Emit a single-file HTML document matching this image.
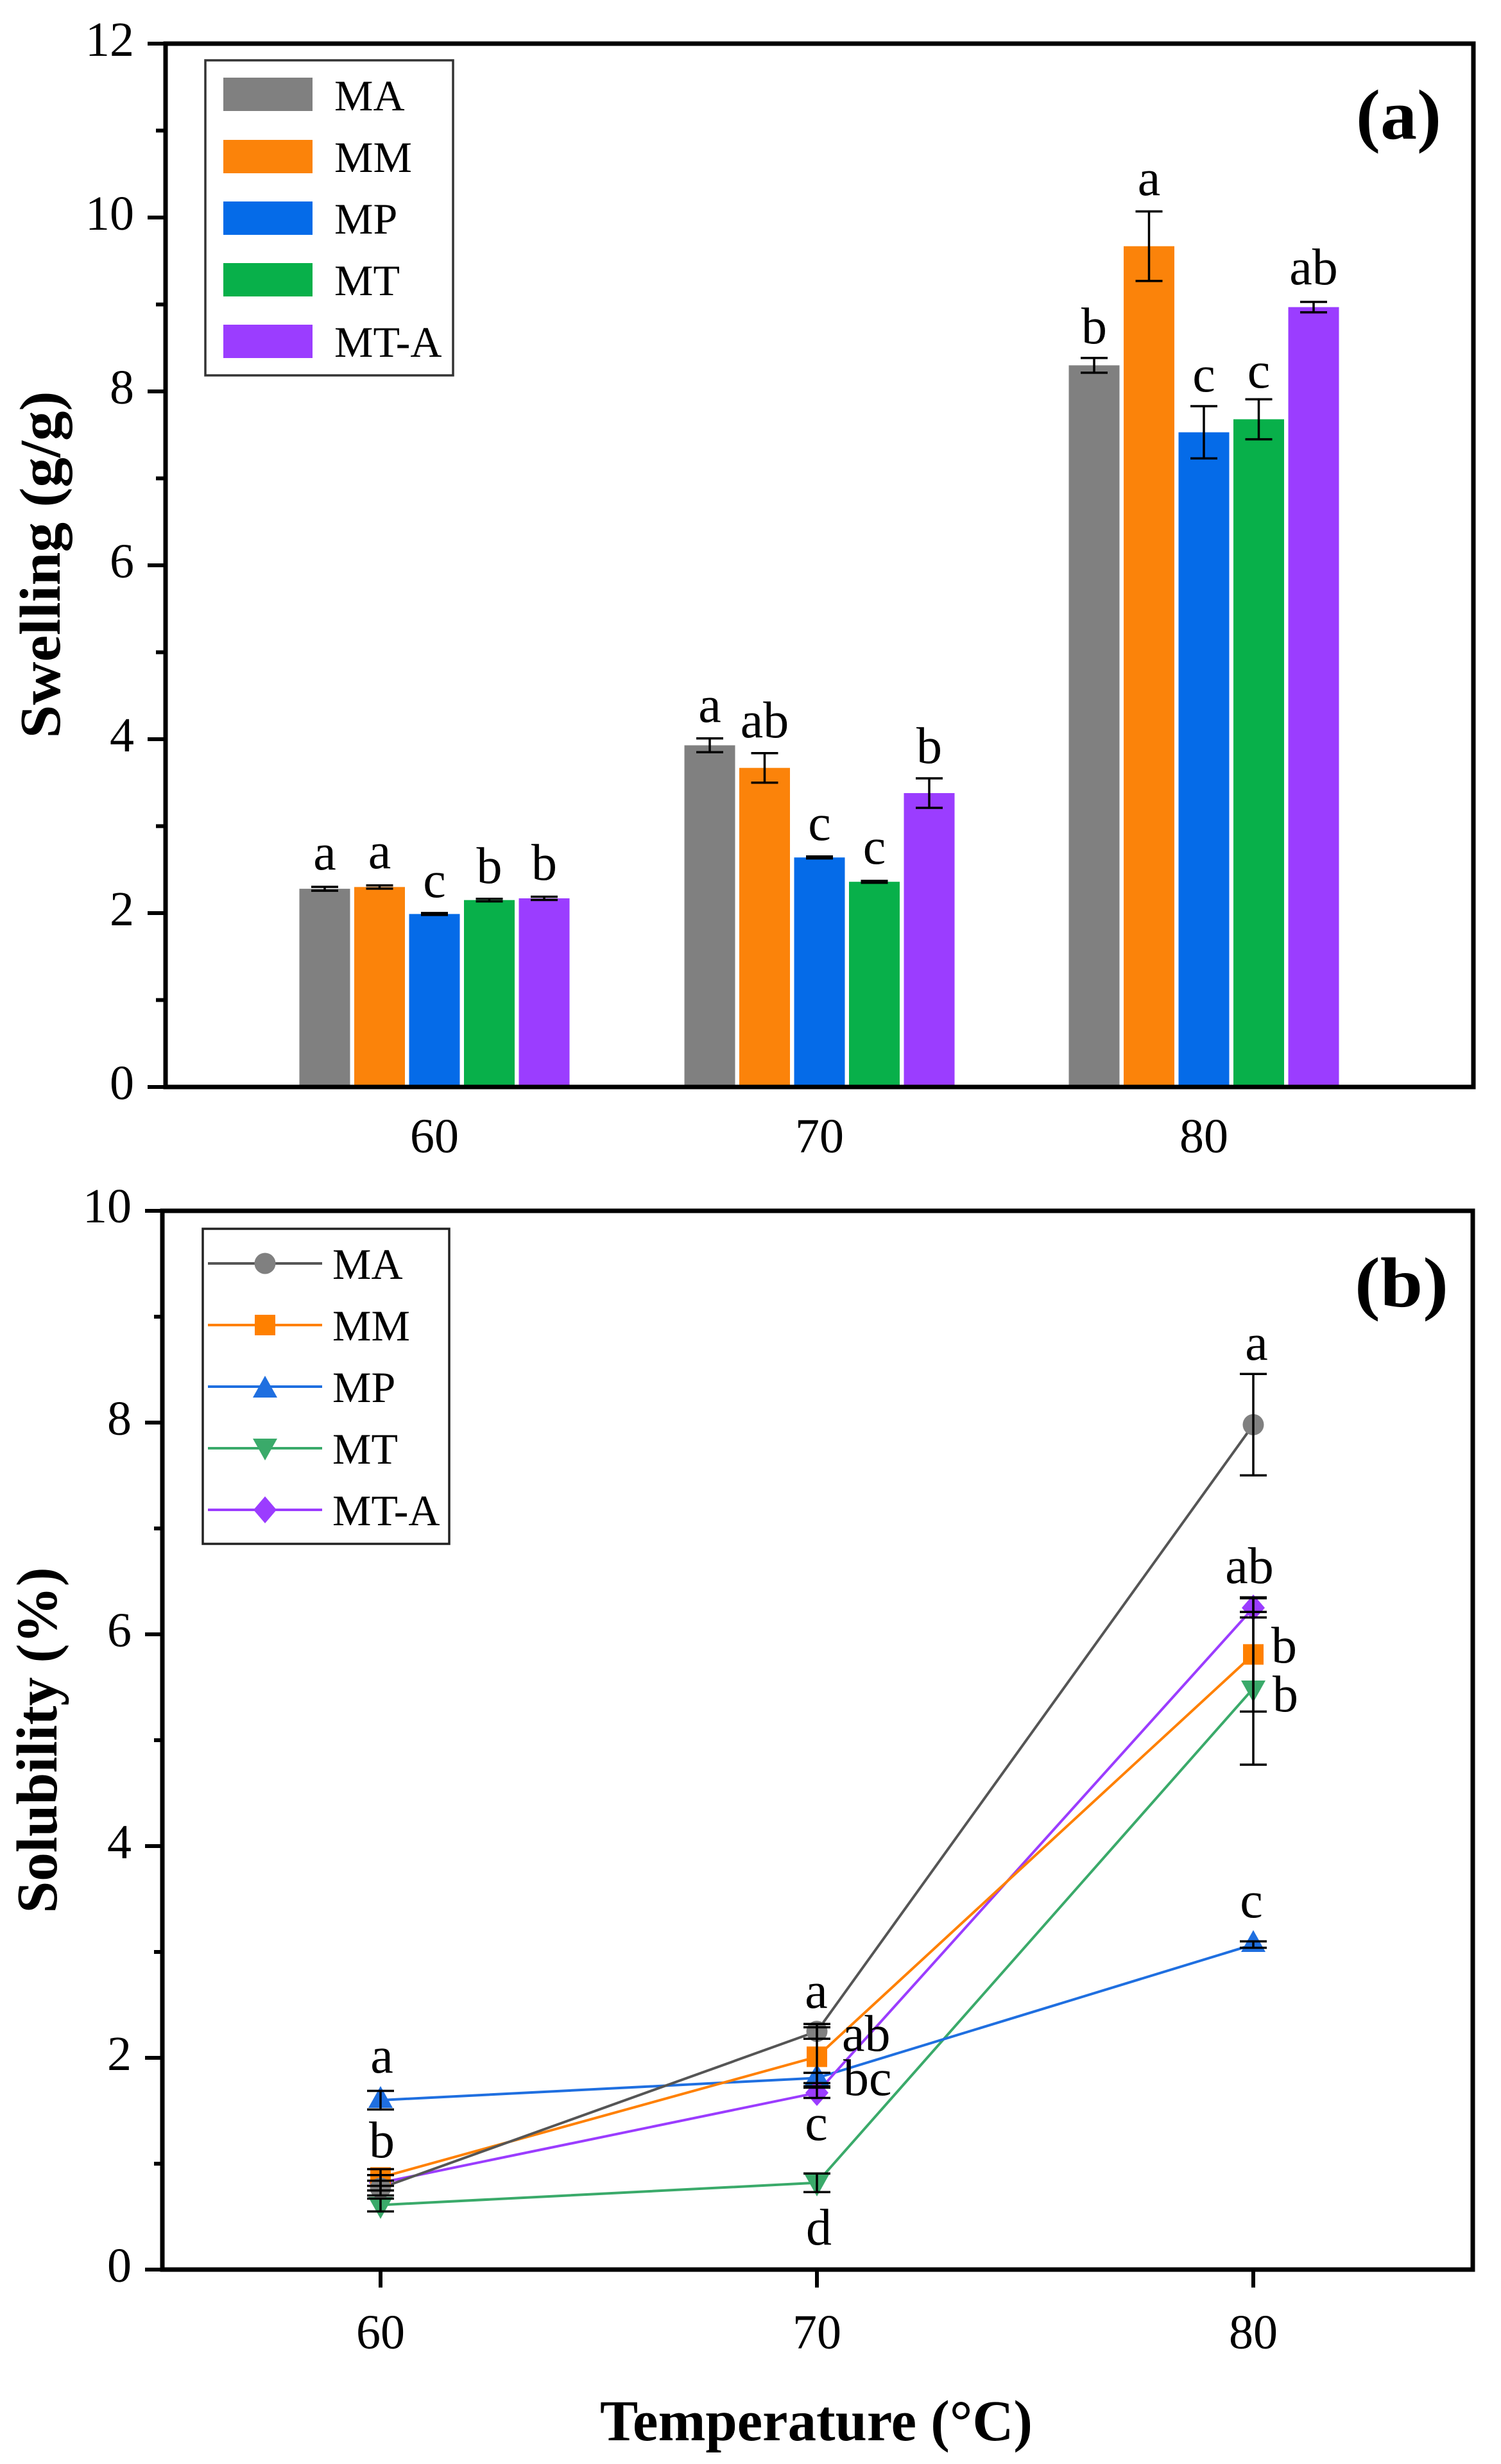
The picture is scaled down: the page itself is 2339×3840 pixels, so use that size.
<!DOCTYPE html>
<html>
<head>
<meta charset="utf-8">
<style>
html,body{margin:0;padding:0;background:#fff;}
svg{display:block;}
text{font-family:"Liberation Serif","DejaVu Serif",serif;fill:#000;}
</style>
</head>
<body>
<svg xmlns="http://www.w3.org/2000/svg" width="2339" height="3840" viewBox="0 0 2339 3840">
<rect x="0" y="0" width="2339" height="3840" fill="#fff"/>

<!-- ================= PANEL A ================= -->
<!-- bars 60 -->
<g>
<rect x="466.5" y="1385.1" width="79" height="308.9" fill="#808080"/>
<rect x="552" y="1382.35" width="79" height="311.65" fill="#FB830A"/>
<rect x="637.5" y="1424.4" width="79" height="269.6" fill="#056BE8"/>
<rect x="723" y="1402.7" width="79" height="291.3" fill="#08B04A"/>
<rect x="808.5" y="1400" width="79" height="294" fill="#9B3DFF"/>
<!-- bars 70 -->
<rect x="1066.5" y="1161.5" width="79" height="532.5" fill="#808080"/>
<rect x="1152" y="1196.7" width="79" height="497.3" fill="#FB830A"/>
<rect x="1237.5" y="1336.3" width="79" height="357.7" fill="#056BE8"/>
<rect x="1323" y="1374.2" width="79" height="319.8" fill="#08B04A"/>
<rect x="1408.5" y="1236" width="79" height="458" fill="#9B3DFF"/>
<!-- bars 80 -->
<rect x="1665.5" y="569.35" width="79" height="1124.65" fill="#808080"/>
<rect x="1751" y="383.7" width="79" height="1310.3" fill="#FB830A"/>
<rect x="1836.5" y="673.7" width="79" height="1020.3" fill="#056BE8"/>
<rect x="1922" y="653.4" width="79" height="1040.6" fill="#08B04A"/>
<rect x="2007.5" y="478.6" width="79" height="1215.4" fill="#9B3DFF"/>
</g>

<!-- error bars panel a -->
<g stroke="#000" stroke-width="3.5" fill="none">
<path d="M485 1382.1H527M506 1382.1V1388.1M485 1388.1H527"/>
<path d="M570.5 1379.85H612.5M591.5 1379.85V1384.85M570.5 1384.85H612.5"/>
<path d="M656 1422.9H698M677 1422.9V1425.9M656 1425.9H698"/>
<path d="M741.5 1400.7H783.5M762.5 1400.7V1404.7M741.5 1404.7H783.5"/>
<path d="M827 1397.5H869M848 1397.5V1402.5M827 1402.5H869"/>

<path d="M1085 1150.7H1127M1106 1150.7V1172.3M1085 1172.3H1127"/>
<path d="M1170.5 1173.7H1212.5M1191.5 1173.7V1219.7M1170.5 1219.7H1212.5"/>
<path d="M1256 1334.8H1298M1277 1334.8V1337.8M1256 1337.8H1298"/>
<path d="M1341.5 1372.7H1383.5M1362.5 1372.7V1375.7M1341.5 1375.7H1383.5"/>
<path d="M1427 1213H1469M1448 1213V1259M1427 1259H1469"/>

<path d="M1684 557.85H1726M1705 557.85V580.85M1684 580.85H1726"/>
<path d="M1769.5 329.5H1811.5M1790.5 329.5V437.9M1769.5 437.9H1811.5"/>
<path d="M1855 633.05H1897M1876 633.05V714.35M1855 714.35H1897"/>
<path d="M1940.5 622.2H1982.5M1961.5 622.2V684.6M1940.5 684.6H1982.5"/>
<path d="M2026 470.5H2068M2047 470.5V486.7M2026 486.7H2068"/>
</g>

<!-- letters panel a -->
<g font-size="80" text-anchor="middle">
<text x="506" y="1355">a</text>
<text x="591.5" y="1353">a</text>
<text x="677" y="1398">c</text>
<text x="762.5" y="1376">b</text>
<text x="848" y="1371">b</text>

<text x="1106" y="1125">a</text>
<text x="1191.5" y="1149">ab</text>
<text x="1277" y="1309">c</text>
<text x="1362.5" y="1346">c</text>
<text x="1448" y="1189">b</text>

<text x="1705" y="535">b</text>
<text x="1790.5" y="304">a</text>
<text x="1876" y="610">c</text>
<text x="1961.5" y="604">c</text>
<text x="2047" y="443">ab</text>
</g>

<!-- frame panel a -->
<rect x="258" y="68" width="2038" height="1626" fill="none" stroke="#000" stroke-width="7"/>
<!-- y ticks panel a -->
<g stroke="#000" stroke-width="6">
<path d="M230 1694H258M230 1423H258M230 1152H258M230 881H258M230 610H258M230 339H258M230 68H258"/>
<path d="M243 1558.5H258M243 1287.5H258M243 1016.5H258M243 745.5H258M243 474.5H258M243 203.5H258"/>
</g>
<g font-size="76" text-anchor="end">
<text x="209" y="1713">0</text>
<text x="209" y="1442">2</text>
<text x="209" y="1171">4</text>
<text x="209" y="900">6</text>
<text x="209" y="629">8</text>
<text x="209" y="358">10</text>
<text x="209" y="87">12</text>
</g>
<g font-size="76" text-anchor="middle">
<text x="677" y="1796">60</text>
<text x="1277" y="1796">70</text>
<text x="1876" y="1796">80</text>
</g>
<text x="93" y="880" font-size="90" font-weight="bold" text-anchor="middle" transform="rotate(-90 93 880)" textLength="541" lengthAdjust="spacingAndGlyphs">Swelling (g/g)</text>
<text x="2113" y="216" font-size="110" font-weight="bold" textLength="133" lengthAdjust="spacingAndGlyphs">(a)</text>

<!-- legend a -->
<rect x="320" y="94" width="386" height="491" fill="#fff" stroke="#333" stroke-width="3.5"/>
<rect x="348" y="121" width="139" height="52" fill="#808080"/>
<rect x="348" y="218" width="139" height="52" fill="#FB830A"/>
<rect x="348" y="314" width="139" height="52" fill="#056BE8"/>
<rect x="348" y="410" width="139" height="52" fill="#08B04A"/>
<rect x="348" y="506" width="139" height="52" fill="#9B3DFF"/>
<g font-size="68">
<text x="521" y="172">MA</text>
<text x="521" y="268">MM</text>
<text x="521" y="364">MP</text>
<text x="521" y="460">MT</text>
<text x="521" y="556">MT-A</text>
</g>

<!-- ================= PANEL B ================= -->
<!-- lines -->
<g fill="none" stroke-width="4" stroke-linejoin="round">
<polyline points="593,3436.35 1273,3401.7 1953,2631.15" stroke="#3AAA6A"/>
<polyline points="593,3273 1273,3238.35 1953,3030.45" stroke="#1F6FE0"/>
<polyline points="593,3401.7 1273,3261.45 1953,2505.75" stroke="#9B3CFF"/>
<polyline points="593,3393.45 1273,3205.35 1953,2578.35" stroke="#FF8000"/>
<polyline points="593,3409.95 1273,3165.75 1953,2220.3" stroke="#555555"/>
</g>
<!-- markers -->
<g>
<!-- MT down triangles -->
<g fill="#3AAA6A">
<polygon points="574,3424 612,3424 593,3458"/>
<polygon points="1254,3389 1292,3389 1273,3423"/>
<polygon points="1934,2619 1972,2619 1953,2653"/>
</g>
<!-- MP up triangles -->
<g fill="#1F6FE0">
<polygon points="574,3285 612,3285 593,3251"/>
<polygon points="1254,3250 1292,3250 1273,3216"/>
<polygon points="1934,3042 1972,3042 1953,3008"/>
</g>
<!-- MT-A diamonds -->
<g fill="#9B3CFF">
<polygon points="593,3381 611,3401.7 593,3422 575,3401.7"/>
<polygon points="1273,3241 1291,3261.45 1273,3282 1255,3261.45"/>
<polygon points="1953,2485 1971,2505.75 1953,2526 1935,2505.75"/>
</g>
<!-- MM squares -->
<g fill="#FF8000">
<rect x="577" y="3377.45" width="32" height="32"/>
<rect x="1257" y="3189.35" width="32" height="32"/>
<rect x="1937" y="2562.35" width="32" height="32"/>
</g>
<!-- MA circles -->
<g fill="#808080">
<circle cx="593" cy="3409.95" r="16.5"/>
<circle cx="1273" cy="3165.75" r="16.5"/>
<circle cx="1953" cy="2220.3" r="16.5"/>
</g>
</g>
<!-- error bars panel b -->
<g stroke="#000" stroke-width="3.5" fill="none">
<!-- MA -->
<path d="M572 3398.45H614M593 3398.45V3421.45M572 3421.45H614"/>
<path d="M1252 3154.25H1294M1273 3154.25V3177.25M1252 3177.25H1294"/>
<path d="M1932 2141.3H1974M1953 2141.3V2299.3M1932 2299.3H1974"/>
<!-- MM -->
<path d="M572 3380.45H614M593 3380.45V3406.45M572 3406.45H614"/>
<path d="M1252 3159.35H1294M1273 3159.35V3251.35M1252 3251.35H1294"/>
<path d="M1932 2489.35H1974M1953 2489.35V2667.35M1932 2667.35H1974"/>
<!-- MP -->
<path d="M572 3258.5H614M593 3258.5V3287.5M572 3287.5H614"/>
<path d="M1252 3230.35H1294M1273 3230.35V3246.35M1252 3246.35H1294"/>
<path d="M1932 3025.45H1974M1953 3025.45V3035.45M1932 3035.45H1974"/>
<!-- MT -->
<path d="M572 3426.35H614M593 3426.35V3446.35M572 3446.35H614"/>
<path d="M1252 3387.2H1294M1273 3387.2V3416.2M1252 3416.2H1294"/>
<path d="M1932 2512.15H1974M1953 2512.15V2750.15M1932 2750.15H1974"/>
<!-- MT-A -->
<path d="M572 3389.7H614M593 3389.7V3413.7M572 3413.7H614"/>
<path d="M1252 3253.45H1294M1273 3253.45V3269.45M1252 3269.45H1294"/>
<path d="M1932 2490.75H1974M1953 2490.75V2520.75M1932 2520.75H1974"/>
</g>

<!-- letters panel b -->
<g font-size="80">
<text x="595" y="3230" text-anchor="middle">a</text>
<text x="595" y="3362" text-anchor="middle">b</text>
<text x="1272" y="3129" text-anchor="middle">a</text>
<text x="1312" y="3196">ab</text>
<text x="1314" y="3265">bc</text>
<text x="1272" y="3335" text-anchor="middle">c</text>
<text x="1276" y="3498" text-anchor="middle">d</text>
<text x="1958" y="2119" text-anchor="middle">a</text>
<text x="1947" y="2467" text-anchor="middle">ab</text>
<text x="1981" y="2591">b</text>
<text x="1983" y="2667">b</text>
<text x="1950" y="2988" text-anchor="middle">c</text>
</g>

<!-- frame panel b -->
<rect x="253" y="1887" width="2042" height="1650" fill="none" stroke="#000" stroke-width="7"/>
<g stroke="#000" stroke-width="6">
<path d="M226 3537H253M226 3207H253M226 2877H253M226 2547H253M226 2217H253M226 1887H253"/>
<path d="M240 3372H253M240 3042H253M240 2712H253M240 2382H253M240 2052H253"/>
<path d="M593 3537V3565M1273 3537V3565M1953 3537V3565"/>
</g>
<g font-size="76" text-anchor="end">
<text x="205" y="3556">0</text>
<text x="205" y="3226">2</text>
<text x="205" y="2896">4</text>
<text x="205" y="2566">6</text>
<text x="205" y="2236">8</text>
<text x="205" y="1905">10</text>
</g>
<g font-size="76" text-anchor="middle">
<text x="593" y="3660">60</text>
<text x="1273" y="3660">70</text>
<text x="1953" y="3660">80</text>
</g>
<text x="88" y="2712" font-size="90" font-weight="bold" text-anchor="middle" transform="rotate(-90 88 2712)" textLength="539" lengthAdjust="spacingAndGlyphs">Solubility (%)</text>
<text x="1272" y="3803" font-size="90" font-weight="bold" text-anchor="middle" textLength="674" lengthAdjust="spacingAndGlyphs">Temperature (°C)</text>
<text x="2111" y="2036" font-size="110" font-weight="bold" textLength="146" lengthAdjust="spacingAndGlyphs">(b)</text>

<!-- legend b -->
<rect x="316" y="1915" width="384" height="491" fill="#fff" stroke="#222" stroke-width="3.5"/>
<g stroke-width="4">
<line x1="324" y1="1969" x2="502" y2="1969" stroke="#555555"/>
<line x1="324" y1="2065" x2="502" y2="2065" stroke="#FF8000"/>
<line x1="324" y1="2161" x2="502" y2="2161" stroke="#1F6FE0"/>
<line x1="324" y1="2257" x2="502" y2="2257" stroke="#3AAA6A"/>
<line x1="324" y1="2353" x2="502" y2="2353" stroke="#9B3CFF"/>
</g>
<circle cx="413" cy="1969" r="16.5" fill="#808080"/>
<rect x="397" y="2049" width="32" height="32" fill="#FF8000"/>
<polygon points="394,2178 432,2178 413,2144" fill="#1F6FE0"/>
<polygon points="394,2242 432,2242 413,2276" fill="#3AAA6A"/>
<polygon points="413,2332 431,2353 413,2374 395,2353" fill="#9B3CFF"/>
<g font-size="68">
<text x="518" y="1993">MA</text>
<text x="518" y="2089">MM</text>
<text x="518" y="2185">MP</text>
<text x="518" y="2281">MT</text>
<text x="518" y="2377">MT-A</text>
</g>
</svg>
</body>
</html>
